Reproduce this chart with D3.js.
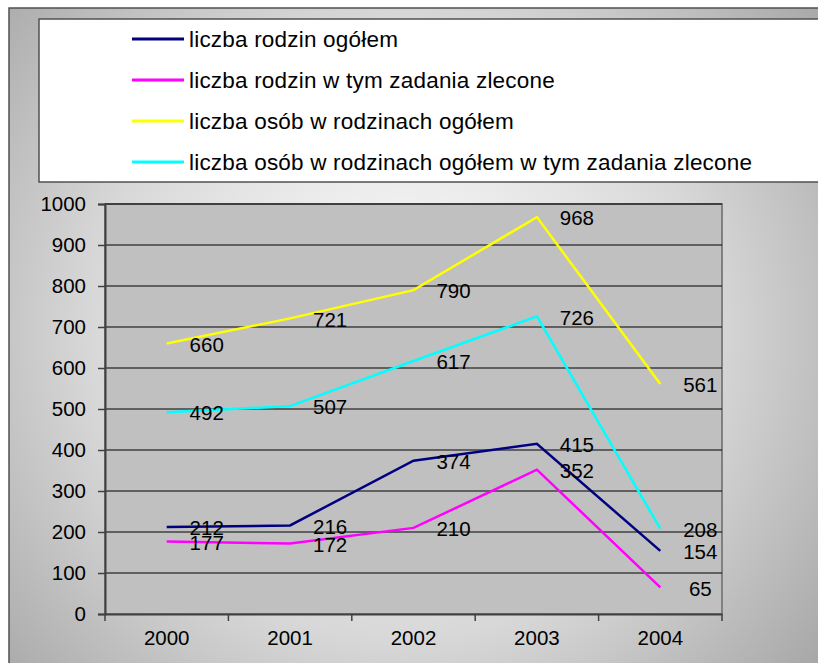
<!DOCTYPE html>
<html>
<head>
<meta charset="utf-8">
<script src="https://cdn.jsdelivr.net/npm/d3@7"></script>
<style>
  body { margin: 0; background: #fff; }
  svg { display: block; font-family: Arial, "Liberation Sans", sans-serif; }
</style>
</head>
<body>
<svg id="chart" width="818" height="663"></svg>
<script>
var years = ['2000', '2001', '2002', '2003', '2004'];
var rodzinOgolem = [212, 216, 374, 415, 154];
var rodzinZlecone = [177, 172, 210, 352, 65];
var osobOgolem = [660, 721, 790, 968, 561];
var osobZlecone = [492, 507, 617, 726, 208];
var yTicks = [0, 100, 200, 300, 400, 500, 600, 700, 800, 900, 1000];

var series = [
  { name: 'liczba rodzin ogółem', color: '#000080', values: rodzinOgolem },
  { name: 'liczba rodzin w tym zadania zlecone', color: '#ff00ff', values: rodzinZlecone },
  { name: 'liczba osób w rodzinach ogółem', color: '#ffff00', values: osobOgolem },
  { name: 'liczba osób w rodzinach ogółem w tym zadania zlecone', color: '#00ffff', values: osobZlecone }
];

var FONT = 'Arial, "Liberation Sans", sans-serif';
var svg = d3.select('#chart');
var plot = { left: 105, right: 722, top: 204, bottom: 614 };

// background gradient of the chart frame
var defs = svg.append('defs');
var grad = defs.append('radialGradient')
  .attr('id', 'bg')
  .attr('gradientUnits', 'userSpaceOnUse')
  .attr('cx', 400).attr('cy', 330).attr('r', 560);
grad.append('stop').attr('offset', '0%').attr('stop-color', '#ffffff');
grad.append('stop').attr('offset', '55%').attr('stop-color', '#d8d8d8');
grad.append('stop').attr('offset', '100%').attr('stop-color', '#a2a2a2');

svg.append('rect')
  .attr('x', 9).attr('y', 8)
  .attr('width', 830).attr('height', 680)
  .attr('fill', 'url(#bg)')
  .attr('stroke', '#505050')
  .attr('stroke-width', 1.5);

// legend box
var legend = svg.append('g');
legend.append('rect')
  .attr('x', 39).attr('y', 19)
  .attr('width', 800).attr('height', 163)
  .attr('fill', '#fff')
  .attr('stroke', '#505050')
  .attr('stroke-width', 1.5);

series.forEach(function(s, i) {
  var ly = 39 + i * 41;
  legend.append('line')
    .attr('x1', 132).attr('x2', 184)
    .attr('y1', ly).attr('y2', ly)
    .attr('stroke', s.color)
    .attr('stroke-width', 3);
  legend.append('text')
    .attr('x', 189).attr('y', ly)
    .attr('dy', '0.35em')
    .attr('font-size', 22.5)
    .attr('letter-spacing', 0.2)
    .attr('fill', '#000')
    .text(s.name);
});

// scales
var xScale = d3.scaleBand()
  .domain(years)
  .range([plot.left, plot.right]);

var yScale = d3.scaleLinear()
  .domain([0, 1000])
  .range([plot.bottom, plot.top]);

// plot area
svg.append('rect')
  .attr('x', plot.left).attr('y', plot.top)
  .attr('width', plot.right - plot.left)
  .attr('height', plot.bottom - plot.top)
  .attr('fill', '#c0c0c0')
  .attr('stroke', '#808080')
  .attr('stroke-width', 2);

svg.append('g')
  .selectAll('line')
  .data(yTicks.filter(function(t) { return t > 0; }))
  .enter()
  .append('line')
  .attr('x1', plot.left).attr('x2', plot.right)
  .attr('y1', function(d) { return yScale(d); })
  .attr('y2', function(d) { return yScale(d); })
  .attr('stroke', '#000')
  .attr('stroke-width', 1);

// axes
var yAxis = d3.axisLeft(yScale)
  .tickValues(yTicks)
  .tickFormat(d3.format('d'))
  .tickSize(7)
  .tickPadding(12);

var gy = svg.append('g')
  .attr('transform', 'translate(' + plot.left + ',0)')
  .call(yAxis);
gy.attr('font-family', FONT).attr('font-size', 20.5);
gy.select('.domain').attr('stroke', '#404040').attr('stroke-width', 2);
gy.selectAll('.tick line').attr('stroke', '#404040').attr('stroke-width', 1.5);
gy.selectAll('.tick text').attr('fill', '#000');

var xAxis = d3.axisBottom(xScale)
  .tickSize(0)
  .tickPadding(16);

var gx = svg.append('g')
  .attr('transform', 'translate(0,' + plot.bottom + ')')
  .call(xAxis);
gx.attr('font-family', FONT).attr('font-size', 20.5);
gx.select('.domain').attr('stroke', '#404040').attr('stroke-width', 2);
gx.selectAll('.tick text').attr('fill', '#000');

// tick marks between categories
var bounds = years.map(function(y) { return xScale(y); }).concat([plot.right]);
gx.selectAll('.cat-tick')
  .data(bounds)
  .enter()
  .append('line')
  .attr('class', 'cat-tick')
  .attr('x1', function(d) { return d; })
  .attr('x2', function(d) { return d; })
  .attr('y1', 0).attr('y2', 7)
  .attr('stroke', '#404040')
  .attr('stroke-width', 1.5);

// lines
var lineFunction = d3.line()
  .x(function(d, i) { return xScale(years[i]) + xScale.bandwidth() / 2; })
  .y(function(d) { return yScale(d); });

series.forEach(function(s) {
  svg.append('path')
    .datum(s.values)
    .attr('fill', 'none')
    .attr('stroke', s.color)
    .attr('stroke-width', 2.5)
    .attr('d', lineFunction);
});

// value labels
series.forEach(function(s) {
  svg.append('g')
    .selectAll('text')
    .data(s.values)
    .enter()
    .append('text')
    .attr('x', function(d, i) { return xScale(years[i]) + xScale.bandwidth() / 2 + 40; })
    .attr('y', function(d) { return yScale(d) + 1; })
    .attr('dy', '0.35em')
    .attr('text-anchor', 'middle')
    .attr('font-size', 20.5)
    .attr('fill', '#000')
    .text(function(d) { return d; });
});
</script>
</body>
</html>
